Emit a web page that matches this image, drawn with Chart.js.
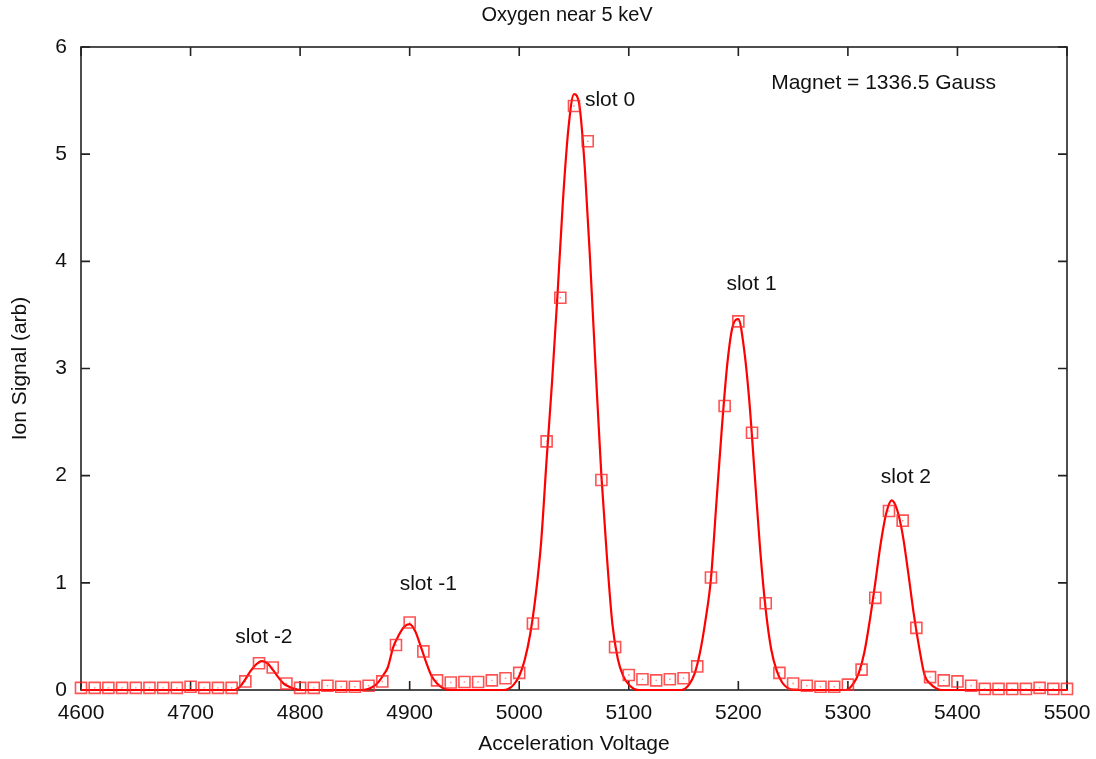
<!DOCTYPE html>
<html>
<head>
<meta charset="utf-8">
<script src="https://cdn.jsdelivr.net/npm/chart.js@4.4.0/dist/chart.umd.min.js"></script>
<style>
  html, body { margin: 0; padding: 0; background: #fff; }
  #wrap { width: 1096px; height: 759px; }
</style>
</head>
<body>
<div id="wrap"><canvas id="oxygenChart"></canvas></div>
<script>
// ----------------------------------------------------------------------
// Datos
// ----------------------------------------------------------------------
const voltages = [4600, 4612.5, 4625, 4637.5, 4650, 4662.5, 4675, 4687.5, 4700, 4712.5, 4725, 4737.5,
    4750, 4762.5, 4775, 4787.5, 4800, 4812.5, 4825, 4837.5, 4850, 4862.5, 4875, 4887.5,
    4900, 4912.5, 4925, 4937.5, 4950, 4962.5, 4975, 4987.5, 5000, 5012.5, 5025, 5037.5,
    5050, 5062.5, 5075, 5087.5, 5100, 5112.5, 5125, 5137.5, 5150, 5162.5, 5175, 5187.5,
    5200, 5212.5, 5225, 5237.5, 5250, 5262.5, 5275, 5287.5, 5300, 5312.5, 5325, 5337.5,
    5350, 5362.5, 5375, 5387.5, 5400, 5412.5, 5425, 5437.5, 5450, 5462.5, 5475, 5487.5, 5500];

const ionSignal = [0.02, 0.02, 0.02, 0.02, 0.02, 0.02, 0.02, 0.02, 0.03, 0.02, 0.02, 0.02,
    0.08, 0.25, 0.21, 0.06, 0.02, 0.02, 0.04, 0.03, 0.03, 0.04, 0.08, 0.42,
    0.63, 0.36, 0.09, 0.07, 0.075, 0.075, 0.09, 0.11, 0.16, 0.62, 2.32, 3.66,
    5.45, 5.12, 1.96, 0.40, 0.14, 0.10, 0.09, 0.10, 0.11, 0.22, 1.05, 2.65,
    3.44, 2.40, 0.81, 0.16, 0.06, 0.04, 0.03, 0.03, 0.05, 0.19, 0.86, 1.67,
    1.58, 0.58, 0.12, 0.09, 0.08, 0.04, 0.01, 0.01, 0.01, 0.01, 0.02, 0.01, 0.01];

// curva ajustada (leida punto a punto)
const fitVoltage = [4600, 4740, 4745, 4750, 4755, 4760, 4765, 4770, 4775, 4780, 4785, 4790, 4795, 4800,
    4855, 4862, 4868, 4872, 4876, 4880, 4885, 4890, 4895, 4900, 4905, 4910, 4915, 4920, 4925, 4930, 4937,
    4985, 4990, 4995, 5000, 5005, 5010, 5015, 5020, 5025, 5030, 5035, 5040, 5045, 5050, 5055, 5060,
    5065, 5070, 5075, 5080, 5085, 5090, 5095, 5100, 5105, 5110,
    5148, 5155, 5160, 5165, 5170, 5175, 5180, 5185, 5190, 5195, 5200, 5205, 5210, 5215, 5220, 5225,
    5230, 5235, 5240, 5245, 5250,
    5298, 5305, 5310, 5315, 5320, 5325, 5330, 5335, 5340, 5345, 5350, 5355, 5360, 5365, 5370, 5375,
    5380, 5385, 5500];

const fitSignal = [0, 0, 0.03, 0.10, 0.18, 0.24, 0.27, 0.25, 0.19, 0.12, 0.06, 0.03, 0.01, 0,
    0, 0.01, 0.04, 0.08, 0.14, 0.21, 0.40, 0.51, 0.59, 0.615, 0.55, 0.41, 0.26, 0.13, 0.06, 0.02, 0,
    0, 0.01, 0.05, 0.13, 0.28, 0.52, 0.88, 1.38, 2.15, 2.88, 3.70, 4.58, 5.25, 5.56, 5.45, 4.85,
    3.95, 2.95, 2.00, 1.25, 0.62, 0.29, 0.13, 0.05, 0.01, 0,
    0, 0.05, 0.15, 0.35, 0.65, 1.04, 1.75, 2.45, 3.05, 3.40, 3.46, 3.20, 2.70, 2.00, 1.30, 0.75,
    0.38, 0.18, 0.07, 0.02, 0,
    0, 0.06, 0.16, 0.35, 0.65, 1.00, 1.37, 1.65, 1.77, 1.68, 1.45, 1.10, 0.72, 0.40, 0.14, 0.06,
    0.02, 0, 0];

// etiquetas de texto dentro del grafico
const noteText = ['slot -2', 'slot -1', 'slot 0', 'slot 1', 'slot 2', 'Magnet = 1336.5 Gauss'];
const noteX = [4767, 4917, 5060, 5212, 5353, 5230];
const noteY = [0.49, 0.99, 5.5, 3.79, 1.99, 5.66];
const noteAlign = ['center', 'center', 'left', 'center', 'center', 'left'];

const chartTitle = 'Oxygen near 5 keV';
const FONT = "'Liberation Sans', Arial, sans-serif";

// marco con marcas hacia adentro (estilo gnuplot)
const framePlugin = {
    id: 'frame',
    beforeDatasetsDraw(chart) {
        const { ctx, chartArea: a, scales } = chart;
        ctx.save();
        ctx.strokeStyle = '#222';
        ctx.lineWidth = 1.6;
        ctx.strokeRect(a.left, a.top, a.right - a.left, a.bottom - a.top);
        ctx.beginPath();
        scales.x.ticks.forEach(t => {
            const px = scales.x.getPixelForValue(t.value);
            ctx.moveTo(px, a.bottom); ctx.lineTo(px, a.bottom - 9);
            ctx.moveTo(px, a.top); ctx.lineTo(px, a.top + 9);
        });
        scales.y.ticks.forEach(t => {
            const py = scales.y.getPixelForValue(t.value);
            ctx.moveTo(a.left, py); ctx.lineTo(a.left + 9, py);
            ctx.moveTo(a.right, py); ctx.lineTo(a.right - 9, py);
        });
        ctx.stroke();

        // titulo, centrado sobre el area del grafico
        ctx.fillStyle = '#111';
        ctx.font = '20px ' + FONT;
        ctx.textAlign = 'center';
        ctx.textBaseline = 'middle';
        ctx.fillText(chartTitle, (a.left + a.right) / 2 - 7, 15);
        ctx.restore();
    },
    afterDatasetsDraw(chart) {
        const { ctx, scales } = chart;
        ctx.save();
        ctx.fillStyle = '#111';
        ctx.font = '21px ' + FONT;
        ctx.textBaseline = 'middle';
        noteText.forEach((txt, i) => {
            ctx.textAlign = noteAlign[i];
            ctx.fillText(txt, scales.x.getPixelForValue(noteX[i]), scales.y.getPixelForValue(noteY[i]));
        });
        ctx.restore();
    }
};

document.addEventListener('DOMContentLoaded', () => {
    const ctx = document.getElementById('oxygenChart');

    new Chart(ctx, {
        type: 'scatter',
        data: {
            datasets: [{
                label: 'fit',
                data: fitVoltage.map((v, i) => ({ x: v, y: fitSignal[i] })),
                showLine: true,
                borderColor: '#ff0000',
                borderWidth: 2.2,
                pointRadius: 0,
                cubicInterpolationMode: 'monotone',
                clip: 4,
                order: 2
            }, {
                label: 'data',
                data: voltages.map((v, i) => ({ x: v, y: ionSignal[i] })),
                pointStyle: 'rect',
                pointRadius: 7.8,
                borderWidth: 1.6,
                borderColor: 'rgba(255, 40, 40, 0.8)',
                backgroundColor: 'rgba(0,0,0,0)',
                clip: 8,
                order: 1
            }, {
                label: 'data center',
                data: voltages.map((v, i) => ({ x: v, y: ionSignal[i] })),
                pointStyle: 'rect',
                pointRadius: 1,
                borderWidth: 0,
                backgroundColor: 'rgba(255, 60, 60, 0.6)',
                order: 0
            }]
        },
        options: {
            responsive: true,
            maintainAspectRatio: false,
            animation: false,
            layout: { padding: { top: 47, left: 0, right: 29, bottom: 0 } },
            plugins: {
                legend: { display: false },
                tooltip: { enabled: false },
                title: { display: false }
            },
            scales: {
                x: {
                    type: 'linear',
                    min: 4600,
                    max: 5500,
                    grid: { display: false, drawTicks: false },
                    border: { display: false },
                    ticks: {
                        stepSize: 100,
                        color: '#111',
                        padding: 11,
                        maxRotation: 0,
                        font: { family: FONT, size: 21 },
                        callback: v => String(v)
                    },
                    title: {
                        display: true,
                        text: 'Acceleration Voltage',
                        color: '#111',
                        font: { family: FONT, size: 21 },
                        padding: { top: 0, bottom: 2 }
                    },
                    afterFit: s => {
                        s.height = 69;
                        s.paddingLeft = 0;
                        s.paddingRight = 0;
                    }
                },
                y: {
                    min: 0,
                    max: 6,
                    grid: { display: false, drawTicks: false },
                    border: { display: false },
                    ticks: {
                        stepSize: 1,
                        color: '#111',
                        padding: 14,
                        font: { family: FONT, size: 21 }
                    },
                    title: {
                        display: true,
                        text: 'Ion Signal (arb)',
                        color: '#111',
                        font: { family: FONT, size: 21 },
                        padding: { top: 8, bottom: 0 }
                    },
                    afterFit: s => {
                        s.width = 81;
                        s.paddingTop = 0;
                        s.paddingBottom = 0;
                    }
                }
            }
        },
        plugins: [framePlugin]
    });
});
</script>
</body>
</html>
